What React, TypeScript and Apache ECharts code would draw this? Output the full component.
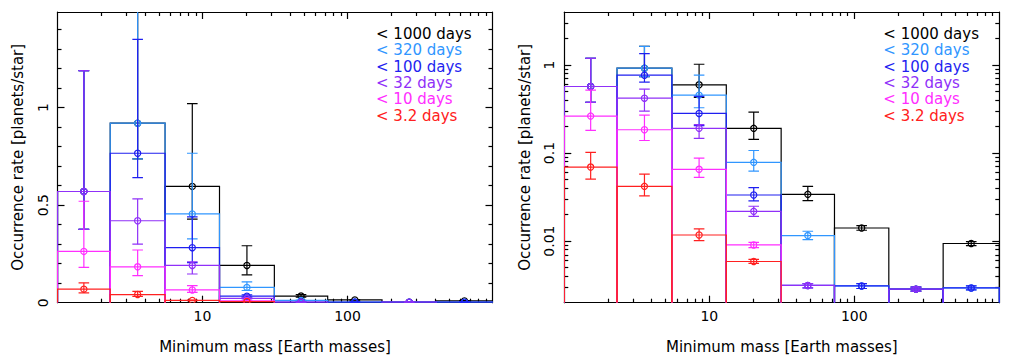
import React, { useEffect, useRef } from 'react';
import * as echarts from 'echarts';

// ---- data ----
const massBinEdges = [1, 2.31, 5.52, 13.1, 31.3, 73, 173, 410, 1000];

const periodNames = ['< 1000 days', '< 320 days', '< 100 days', '< 32 days', '< 10 days', '< 3.2 days'];
const periodColors = ['#000000', '#3096ff', '#1f1ff0', '#9030f8', '#ff2eff', '#ff2020'];

const rate1000d = [0.57, 0.92, 0.596, 0.191, 0.034, 0.0141, 0.00285, 0.0094];
const lo1000d = [0.376, 0.737, 0.428, 0.143, 0.0289, 0.0133, 0.0027, 0.0089];
const hi1000d = [1.19, 1.63, 1.02, 0.292, 0.0419, 0.015, 0.003, 0.0099];

const rate320d = [0.57, 0.92, 0.455, 0.0785, 0.01157, 0.0031, 0.00285, 0.00294];
const lo320d = [0.376, 0.737, 0.327, 0.0625, 0.01043, 0.0029, 0.0027, 0.0028];
const hi320d = [1.19, 1.63, 0.766, 0.107, 0.01295, 0.0033, 0.003, 0.0031];

const rate100d = [0.57, 0.766, 0.282, 0.0334, 0.00314, 0.0031, 0.00285, 0.00294];
const lo100d = [0.376, 0.641, 0.205, 0.0286, 0.00295, 0.0029, 0.0027, 0.0028];
const hi100d = [1.19, 1.35, 0.44, 0.0405, 0.0033, 0.0033, 0.003, 0.0031];

const rate32d = [0.57, 0.42, 0.191, 0.0218, 0.00314, 0, 0.00285, 0];
const lo32d = [0.376, 0.3, 0.147, 0.0191, 0.00295, 0, 0.0027, 0];
const hi32d = [1.19, 0.532, 0.21, 0.0249, 0.0033, 0, 0.003, 0];

const rate10d = [0.263, 0.184, 0.0654, 0.00906, 0, 0, 0, 0];
const lo10d = [0.181, 0.139, 0.053, 0.00846, 0, 0, 0, 0];
const hi10d = [0.52, 0.27, 0.0878, 0.0097, 0, 0, 0, 0];

const rate3d = [0.0694, 0.0419, 0.01175, 0.00587, 0, 0, 0, 0];
const lo3d = [0.0507, 0.0326, 0.01016, 0.0056, 0, 0, 0, 0];
const hi3d = [0.102, 0.0578, 0.01375, 0.0062, 0, 0, 0, 0];

const xMajorTicks = [10, 100];
const xMinorTicks = [2, 3, 4, 5, 6, 7, 8, 9, 20, 30, 40, 50, 60, 70, 80, 90, 200, 300, 400, 500, 600, 700, 800, 900];
const linYLabels = [0, 0.5, 1];
const linYMajorTicks = [0.5, 1];
const linYMinorTicks = [0.1, 0.2, 0.3, 0.4, 0.6, 0.7, 0.8, 0.9, 1.1, 1.2, 1.3, 1.4];
const logYLabels = [0.01, 0.1, 1];
const logYMinorTicks = [0.003, 0.004, 0.005, 0.006, 0.007, 0.008, 0.009, 0.02, 0.03, 0.04, 0.05, 0.06, 0.07, 0.08, 0.09,
  0.2, 0.3, 0.4, 0.5, 0.6, 0.7, 0.8, 0.9, 2, 3];

const rates = [rate1000d, rate320d, rate100d, rate32d, rate10d, rate3d];
const lows = [lo1000d, lo320d, lo100d, lo32d, lo10d, lo3d];
const highs = [hi1000d, hi320d, hi100d, hi32d, hi10d, hi3d];

const FONT = 'DejaVu Sans';
const INK = '#000';
const LW = 1.2;

const fmt = (v: number) => String(+Number(v).toPrecision(4));

function axesSet(kind: 'x' | 'y', grid: number, base: any, label: any, name: string | null, major: number[], minor: number[]) {
  const line = { color: INK, width: LW };
  const posA = kind === 'x' ? 'bottom' : 'left';
  const posB = kind === 'x' ? 'top' : 'right';
  const common = { ...base, gridIndex: grid, splitLine: { show: false }, minorTick: { show: false }, silent: true };
  const majorTick = { show: true, inside: true, length: 7, customValues: major, lineStyle: line };
  const minorTickCfg = { show: true, inside: true, length: 4, customValues: minor, lineStyle: line };
  const first: any = {
    ...common,
    position: posA,
    axisLine: { show: true, onZero: false, lineStyle: line },
    axisTick: majorTick,
    axisLabel: label,
  };
  if (name) {
    first.name = name;
    first.nameLocation = 'middle';
    first.nameGap = kind === 'x' ? 37 : 32;
    first.nameTextStyle = { fontSize: 15, fontFamily: FONT, color: INK };
  }
  return [
    first,
    { ...common, position: posA, axisLine: { show: false, onZero: false }, axisTick: minorTickCfg, axisLabel: { show: false } },
    { ...common, position: posB, axisLine: { show: true, onZero: false, lineStyle: line }, axisTick: majorTick, axisLabel: { show: false } },
    { ...common, position: posB, axisLine: { show: false, onZero: false }, axisTick: minorTickCfg, axisLabel: { show: false } },
  ];
}

function histSeries(k: number, xIdx: number, yIdx: number, baseVal: number) {
  const data: number[][] = [];
  for (let i = 0; i < rates[k].length; i++) {
    if (rates[k][i] > 0) data.push([massBinEdges[i], massBinEdges[i + 1], rates[k][i], lows[k][i], highs[k][i]]);
  }
  return {
    type: 'custom',
    name: periodNames[k],
    xAxisIndex: xIdx,
    yAxisIndex: yIdx,
    clip: true,
    z: 2 + k,
    itemStyle: { color: periodColors[k] },
    encode: { x: [0, 1], y: [2, 3, 4] },
    data,
    renderItem: (params: any, api: any) => {
      const x0 = api.value(0);
      const x1 = api.value(1);
      const v = api.value(2);
      const lo = api.value(3);
      const hi = api.value(4);
      const color = api.visual('color');
      const b0 = api.coord([x0, baseVal]);
      const t0 = api.coord([x0, v]);
      const t1 = api.coord([x1, v]);
      const b1 = api.coord([x1, baseVal]);
      const xc = Math.sqrt(x0 * x1);
      const c = api.coord([xc, v]);
      const pl = api.coord([xc, lo]);
      const ph = api.coord([xc, hi]);
      const cap = 5.3;
      const st = { stroke: color, fill: 'none', lineWidth: LW };
      return {
        type: 'group',
        children: [
          { type: 'polyline', shape: { points: [b0, t0, t1, b1] }, style: st },
          { type: 'line', shape: { x1: c[0], y1: pl[1], x2: c[0], y2: ph[1] }, style: st },
          { type: 'line', shape: { x1: c[0] - cap, y1: pl[1], x2: c[0] + cap, y2: pl[1] }, style: st },
          { type: 'line', shape: { x1: c[0] - cap, y1: ph[1], x2: c[0] + cap, y2: ph[1] }, style: st },
          { type: 'circle', shape: { cx: c[0], cy: c[1], r: 3.1 }, style: st },
        ],
      };
    },
  };
}

function legendAt(left: number) {
  return {
    orient: 'vertical',
    left,
    top: 25,
    itemWidth: 0,
    itemHeight: 17.7,
    itemGap: 0,
    icon: 'none',
    selectedMode: false,
    padding: 0,
    textStyle: { fontSize: 15, fontFamily: FONT },
    data: periodNames.map((n, i) => ({ name: n, icon: 'none', textStyle: { color: periodColors[i], fontSize: 15, fontFamily: FONT } })),
  };
}

export default function App() {
  const ref = useRef<HTMLDivElement>(null);
  useEffect(() => {
    if (!ref.current) return;
    const chart = echarts.init(ref.current, null, { renderer: 'svg' });
    const xBase = { type: 'log', logBase: 10, min: 1, max: 1000 };
    const xLabel = { show: true, customValues: xMajorTicks, margin: 6, fontSize: 14, fontFamily: FONT, color: INK, formatter: fmt };
    const yLabel = (vals: number[]) => ({ show: true, customValues: vals, rotate: 90, margin: 8, fontSize: 14, fontFamily: FONT, color: INK, formatter: fmt });
    const yName = 'Occurrence rate [planets/star]';
    const xName = 'Minimum mass [Earth masses]';

    const xAxis = [
      ...axesSet('x', 0, xBase, xLabel, xName, xMajorTicks, xMinorTicks),
      ...axesSet('x', 1, xBase, xLabel, xName, xMajorTicks, xMinorTicks),
    ];
    const yAxis = [
      ...axesSet('y', 0, { type: 'value', min: 0, max: 1.49 }, yLabel(linYLabels), yName, linYMajorTicks, linYMinorTicks),
      ...axesSet('y', 1, { type: 'log', logBase: 10, min: 0.002, max: 4 }, yLabel(logYLabels), yName, logYLabels, logYMinorTicks),
    ];

    const series: any[] = [];
    for (let k = 0; k < periodNames.length; k++) series.push(histSeries(k, 0, 0, 0));
    for (let k = 0; k < periodNames.length; k++) series.push(histSeries(k, 4, 4, 0.002));

    chart.setOption({
      animation: false,
      backgroundColor: '#fff',
      textStyle: { fontFamily: FONT },
      grid: [
        { left: 57.5, top: 12, width: 435, height: 290.7, outerBoundsMode: 'none', containLabel: false },
        { left: 564.3, top: 12, width: 435, height: 290.7, outerBoundsMode: 'none', containLabel: false },
      ],
      legend: [legendAt(371), legendAt(878.3)],
      xAxis,
      yAxis,
      series,
    } as any);
    return () => chart.dispose();
  }, []);
  return <div ref={ref} style={{ position: 'fixed', left: 0, top: 0, width: 1012, height: 363, background: '#fff' }} />;
}
